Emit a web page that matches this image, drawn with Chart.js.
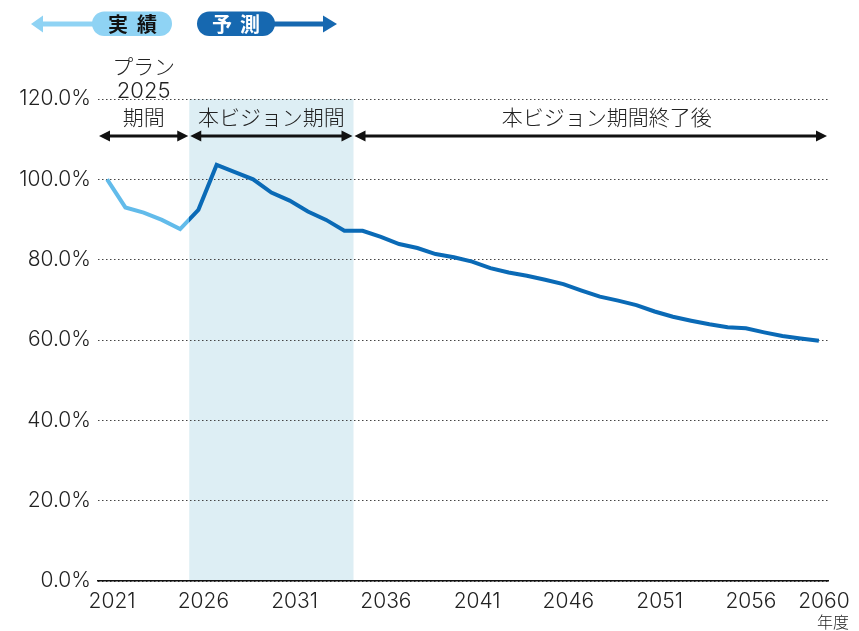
<!DOCTYPE html>
<html>
<head>
<meta charset="utf-8">
<script src="https://cdn.jsdelivr.net/npm/chart.js@4/dist/chart.umd.min.js"></script>
<style>
  html, body { margin: 0; padding: 0; background: #fff; }
  #wrap { width: 859px; height: 631px; }
</style>
</head>
<body>
<div id="wrap"><canvas id="chart"></canvas></div>
<script>
// data
const years = [2021, 2022, 2023, 2024, 2025, 2026, 2027, 2028, 2029, 2030,
  2031, 2032, 2033, 2034, 2035, 2036, 2037, 2038, 2039, 2040,
  2041, 2042, 2043, 2044, 2045, 2046, 2047, 2048, 2049, 2050,
  2051, 2052, 2053, 2054, 2055, 2056, 2057, 2058, 2059, 2060];
const values = [100.0, 93.0, 91.7, 89.9, 87.6, 92.4, 103.6, 101.8, 100.0, 96.7,
  94.7, 92.0, 89.9, 87.2, 87.2, 85.7, 83.9, 82.9, 81.4, 80.6,
  79.5, 77.9, 76.8, 76.0, 75.0, 73.9, 72.3, 70.8, 69.8, 68.7,
  67.1, 65.8, 64.8, 63.9, 63.2, 62.9, 61.9, 61.0, 60.4, 59.8];
const xTickYears = [2021, 2026, 2031, 2036, 2041, 2046, 2051, 2056, 2060];
const periods = [
  { label: ['プラン', '2025', '期間'], from: 2020.5, to: 2025.5, shift: 0 },
  { label: ['本ビジョン期間'], from: 2025.5, to: 2034.5, shift: 0 },
  { label: ['本ビジョン期間終了後'], from: 2034.5, to: 2060.5, shift: 16 }
];
const visionBand = [2025.5, 2034.5];
const splitYear = 2025.5;

const LIGHT = '#62bbea';
const DARK = '#0a6ab6';
const JP = '"Noto Sans CJK JP", "Noto Sans", sans-serif';
const NUM = 'Inter, "Noto Sans CJK JP", sans-serif';

function lineColor(ctx) {
  const chart = ctx.chart;
  const area = chart.chartArea;
  if (!area) return DARK;
  const xs = chart.scales.x.getPixelForValue(splitYear);
  const f = Math.min(1, Math.max(0, (xs - area.left) / (area.right - area.left)));
  const g = chart.ctx.createLinearGradient(area.left, 0, area.right, 0);
  g.addColorStop(0, LIGHT);
  g.addColorStop(f, LIGHT);
  g.addColorStop(f, DARK);
  g.addColorStop(1, DARK);
  return g;
}

function arrow(c, x1, x2, y) {
  const hl = 11, hw = 5.5;
  c.save();
  c.fillStyle = '#111';
  c.strokeStyle = '#111';
  c.lineWidth = 3;
  c.beginPath();
  c.moveTo(x1 + hl - 1, y);
  c.lineTo(x2 - hl + 1, y);
  c.stroke();
  c.beginPath();
  c.moveTo(x1, y); c.lineTo(x1 + hl, y - hw); c.lineTo(x1 + hl, y + hw); c.closePath();
  c.fill();
  c.beginPath();
  c.moveTo(x2, y); c.lineTo(x2 - hl, y - hw); c.lineTo(x2 - hl, y + hw); c.closePath();
  c.fill();
  c.restore();
}

function pill(c, x1, x2, y1, y2, color) {
  const r = (y2 - y1) / 2;
  c.fillStyle = color;
  c.beginPath();
  c.moveTo(x1 + r, y1);
  c.lineTo(x2 - r, y1);
  c.arc(x2 - r, y1 + r, r, -Math.PI / 2, Math.PI / 2);
  c.lineTo(x1 + r, y2);
  c.arc(x1 + r, y1 + r, r, Math.PI / 2, Math.PI * 1.5);
  c.closePath();
  c.fill();
}

const bandPlugin = {
  id: 'band',
  beforeDraw(chart) {
    const c = chart.ctx, a = chart.chartArea, x = chart.scales.x;
    const l = x.getPixelForValue(visionBand[0]);
    const r = x.getPixelForValue(visionBand[1]);
    c.save();
    c.fillStyle = '#ddeef4';
    c.fillRect(l, a.top, r - l, a.bottom - a.top);
    c.restore();
  }
};

const notesPlugin = {
  id: 'notes',
  afterDraw(chart) {
    const c = chart.ctx, x = chart.scales.x;
    c.save();
    // period labels and arrows
    c.fillStyle = '#222';
    c.textAlign = 'center';
    c.textBaseline = 'middle';
    periods.forEach(p => {
      const l = x.getPixelForValue(p.from) - 1;
      const r = x.getPixelForValue(p.to) + 1;
      const cx = (l + r) / 2 + p.shift;
      const n = p.label.length;
      p.label.forEach((t, i) => {
        c.font = /^\d+$/.test(t) ? '300 22px ' + NUM : '300 21px ' + JP;
        c.fillText(t, cx, 117 - (n - 1 - i) * 25.5);
      });
      arrow(c, l + 2, r - 2, 136);
    });
    // 年度
    c.font = '300 16px ' + JP;
    c.fillText('年度', 833, 622);

    // legend header: 実績 / 予測
    c.fillStyle = '#8fd3f4';
    c.fillRect(42, 21.5, 52, 5);
    c.beginPath();
    c.moveTo(31, 24); c.lineTo(43, 15.5); c.lineTo(43, 32.5); c.closePath();
    c.fill();
    pill(c, 92, 172, 11.5, 36, '#8fd3f4');
    c.fillStyle = '#1668b0';
    c.fillRect(272, 21.5, 52, 5);
    c.beginPath();
    c.moveTo(337, 24); c.lineTo(323, 15.5); c.lineTo(323, 32.5); c.closePath();
    c.fill();
    pill(c, 197, 275, 11.5, 36, '#1668b0');
    c.font = 'bold 20px ' + JP;
    c.fillStyle = '#111';
    c.fillText('実', 118, 24.5);
    c.fillText('績', 147, 24.5);
    c.fillStyle = '#fff';
    c.fillText('予', 222, 24.5);
    c.fillText('測', 250, 24.5);
    c.restore();
  }
};

new Chart(document.getElementById('chart'), {
  type: 'line',
  data: {
    datasets: [{
      data: years.map((y, i) => ({ x: y, y: values[i] })),
      borderColor: lineColor,
      borderWidth: 4,
      pointRadius: 0,
      tension: 0,
      borderJoinStyle: 'miter',
      fill: false
    }]
  },
  options: {
    responsive: true,
    maintainAspectRatio: false,
    animation: false,
    events: [],
    layout: { padding: { top: 99, right: 31, left: 0, bottom: 0 } },
    plugins: { legend: { display: false }, tooltip: { enabled: false } },
    scales: {
      x: {
        type: 'linear',
        min: 2020.5,
        max: 2060.5,
        afterBuildTicks(axis) { axis.ticks = xTickYears.map(v => ({ value: v })); },
        afterFit(axis) { axis.height = 50; },
        grid: { display: false, drawTicks: false },
        border: { display: true, color: '#111', width: 1.5 },
        ticks: {
          autoSkip: false,
          maxRotation: 0,
          padding: 8,
          labelOffset: 5,
          color: '#222',
          font: { family: NUM, size: 21, weight: '300' },
          callback: v => String(v)
        }
      },
      y: {
        min: 0,
        max: 120,
        afterFit(axis) { axis.width = 98; },
        border: { display: false, dash: [1.5, 2.5] },
        grid: {
          color: '#444',
          lineWidth: 1,
          drawTicks: false
        },
        ticks: {
          stepSize: 20,
          padding: 7,
          color: '#222',
          font: { family: NUM, size: 21, weight: '300' },
          callback: v => v.toFixed(1) + '%'
        }
      }
    }
  },
  plugins: [bandPlugin, notesPlugin]
});
</script>
</body>
</html>
